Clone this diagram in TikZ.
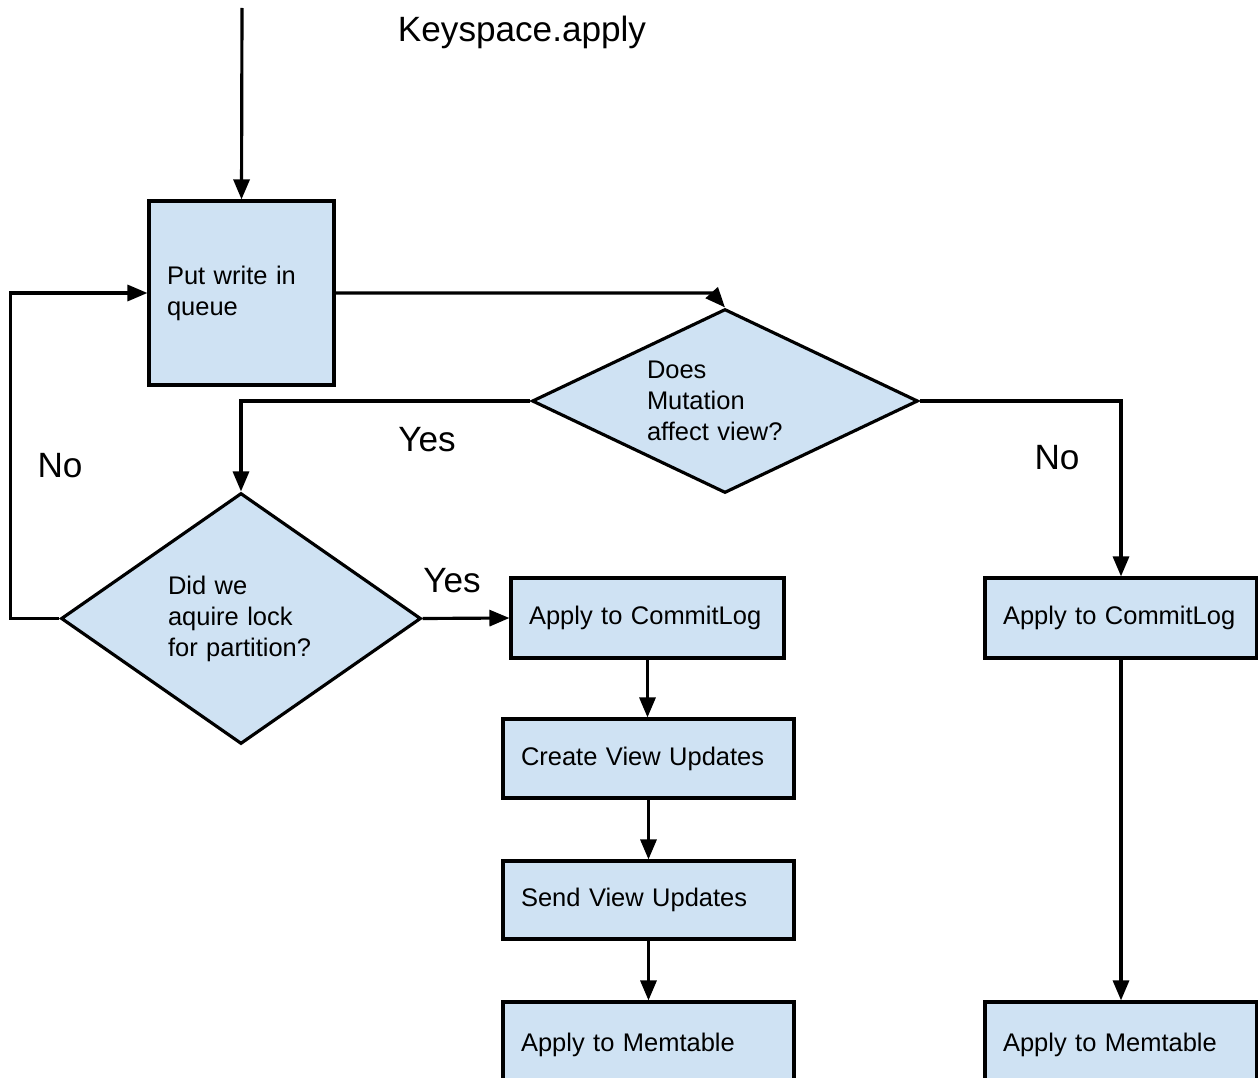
\documentclass[tikz,border=0pt]{standalone}
\usepackage{fontspec}
\setmainfont{Liberation Sans}
\usepackage{tikz}
\usetikzlibrary{arrows.meta}
\usetikzlibrary{shapes.geometric}
\definecolor{boxblue}{HTML}{CFE2F3}

\begin{document}
\begin{tikzpicture}[x=0.02cm,y=-0.02cm,
  line width=1.8pt,
  arr/.style={-{Triangle[length=0.4cm,width=0.32cm]}},
  box/.style={draw,fill=boxblue,inner xsep=0.36cm,inner ysep=0pt,align=left,
    minimum height=1.6cm,text width=#1,font=\fontsize{14.5}{17.6}\selectfont},
  decision/.style={draw,fill=boxblue,diamond,inner sep=0pt,align=left,
    font=\fontsize{14.5}{17.6}\selectfont},
  lbl/.style={font=\fontsize{20}{24}\selectfont}]
\useasboundingbox (0,0) rectangle (1258,1078);
\clip (0,0) rectangle (1258,1078);

\node[lbl] (title) at (522,32) {Keyspace.apply};
\coordinate (start) at (242,8);

\node[box=2.98cm,minimum height=3.68cm] (queue) at (241.5,293) {Put write in\\queue};
\node[decision,aspect=2,minimum width=7.72cm,minimum height=3.68cm,text width=3.12cm]
  (affect) at (725,401) {Does\\Mutation\\affect view?};
\node[decision,aspect=1.4,minimum width=7.2cm,minimum height=5.02cm,text width=2.92cm]
  (lock) at (241,618.5) {Did we\\aquire lock\\for partition?};

\node[box=4.74cm] (clogA) at (647.5,618) {Apply to CommitLog};
\node[box=5.1cm,minimum height=1.58cm] (create) at (648.5,758.5) {Create View Updates};
\node[box=5.1cm,minimum height=1.56cm] (send) at (648.5,900) {Send View Updates};
\node[box=5.1cm,minimum height=1.7cm] (memA) at (648.5,1044.5) {Apply to Memtable};

\node[box=4.72cm] (clogB) at (1121,618) {Apply to CommitLog};
\node[box=4.72cm,minimum height=1.7cm] (memB) at (1121,1044.5) {Apply to Memtable};

\node[lbl] (yesA) at (427,440) {Yes};
\node[lbl] (noA) at (60,466) {No};
\node[lbl] (yesB) at (452,581) {Yes};
\node[lbl] (noB) at (1057,458) {No};

\draw[arr] (start) -- (queue.north);
\draw[arr] (queue.east) -- ([xshift=-0.26cm]affect.north |- queue.east) -- (affect.north);
\draw[arr] (affect.west) -| (lock.north);
\draw[arr] (affect.east) -| (clogB.north);
\draw[arr] (lock.west) -- ++(-49,0) |- (queue.west);
\draw[arr] (lock.east) -- (clogA.west);
\draw[arr] (clogA.south) -- (clogA.south |- create.north);
\draw[arr] (create.south) -- (send.north);
\draw[arr] (send.south) -- (memA.north);
\draw[arr] (clogB.south) -- (memB.north);
\end{tikzpicture}
\end{document}
